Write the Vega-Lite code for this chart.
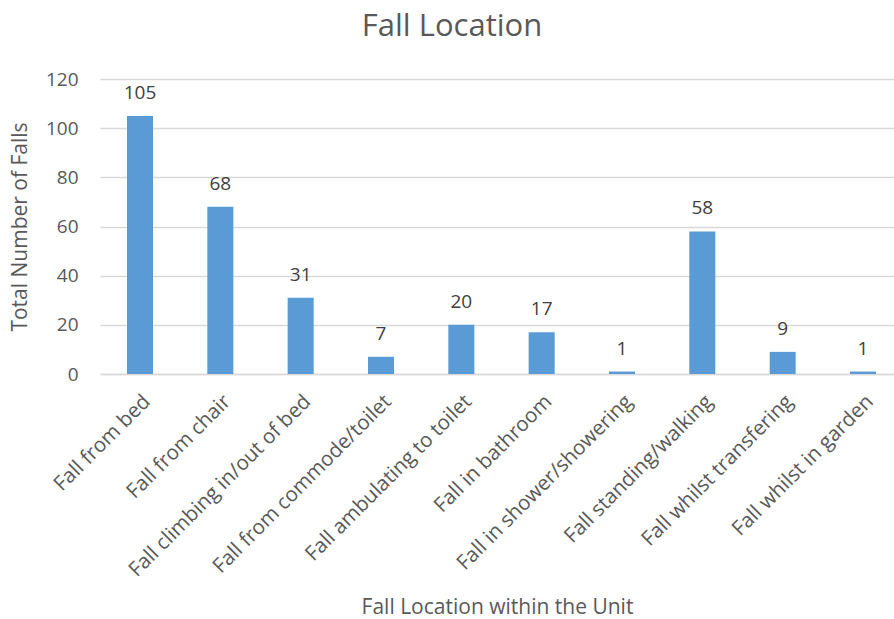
{
  "$schema": "https://vega.github.io/schema/vega-lite/v6.json",
  "autosize": {"type": "none"},
  "width": 794,
  "height": 295,
  "padding": {"left": 100, "top": 79, "right": 0, "bottom": 245},
  "background": "white",
  "config": {"view": {"stroke": null}, "font": "Open Sans"},
  "title": {"text": "Fall Location", "font": "Open Sans", "fontSize": 31, "fontWeight": "normal", "color": "#595959", "offset": 27, "dx": -45},
  "data": {"values": [
    {"location": "Fall from bed", "falls": 105},
    {"location": "Fall from chair", "falls": 68},
    {"location": "Fall climbing in/out of bed", "falls": 31},
    {"location": "Fall from commode/toilet", "falls": 7},
    {"location": "Fall ambulating to toilet", "falls": 20},
    {"location": "Fall in bathroom", "falls": 17},
    {"location": "Fall in shower/showering", "falls": 1},
    {"location": "Fall standing/walking", "falls": 58},
    {"location": "Fall whilst transfering", "falls": 9},
    {"location": "Fall whilst in garden", "falls": 1}
  ]},
  "encoding": {
    "x": {"field": "location", "type": "nominal", "sort": null,
      "scale": {"paddingInner": 0.676, "paddingOuter": 0.28, "align": 0.6},
      "axis": {"title": "Fall Location within the Unit", "titleFont": "Open Sans", "titleFontSize": 21, "titleFontWeight": "normal", "titleColor": "#595959", "titleY": 233, "titleBaseline": "middle",
        "labelAngle": -45, "labelFont": "Open Sans", "labelFontSize": 20.5, "labelColor": "#595959", "labelPadding": 17, "labelLimit": 0,
        "ticks": false, "domainColor": "#d9d9d9", "domainWidth": 1.5}},
    "y": {"field": "falls", "type": "quantitative",
      "scale": {"domain": [0, 120]},
      "axis": {"values": [0, 20, 40, 60, 80, 100, 120], "title": "Total Number of Falls", "titleFont": "Open Sans", "titleFontSize": 21, "titleFontWeight": "normal", "titleColor": "#595959", "titleX": -80, "titleBaseline": "middle",
        "labelFont": "Open Sans", "labelFontSize": 19, "labelColor": "#595959", "labelPadding": 22,
        "ticks": false, "domain": false, "grid": true, "gridColor": "#d9d9d9", "gridWidth": 1.5}}
  },
  "layer": [
    {"mark": {"type": "bar", "color": "#5b9bd5"}},
    {"mark": {"type": "text", "font": "Open Sans", "fontSize": 19, "color": "#404040", "baseline": "alphabetic", "dy": -17},
     "encoding": {"text": {"field": "falls", "type": "quantitative"}}}
  ]
}
